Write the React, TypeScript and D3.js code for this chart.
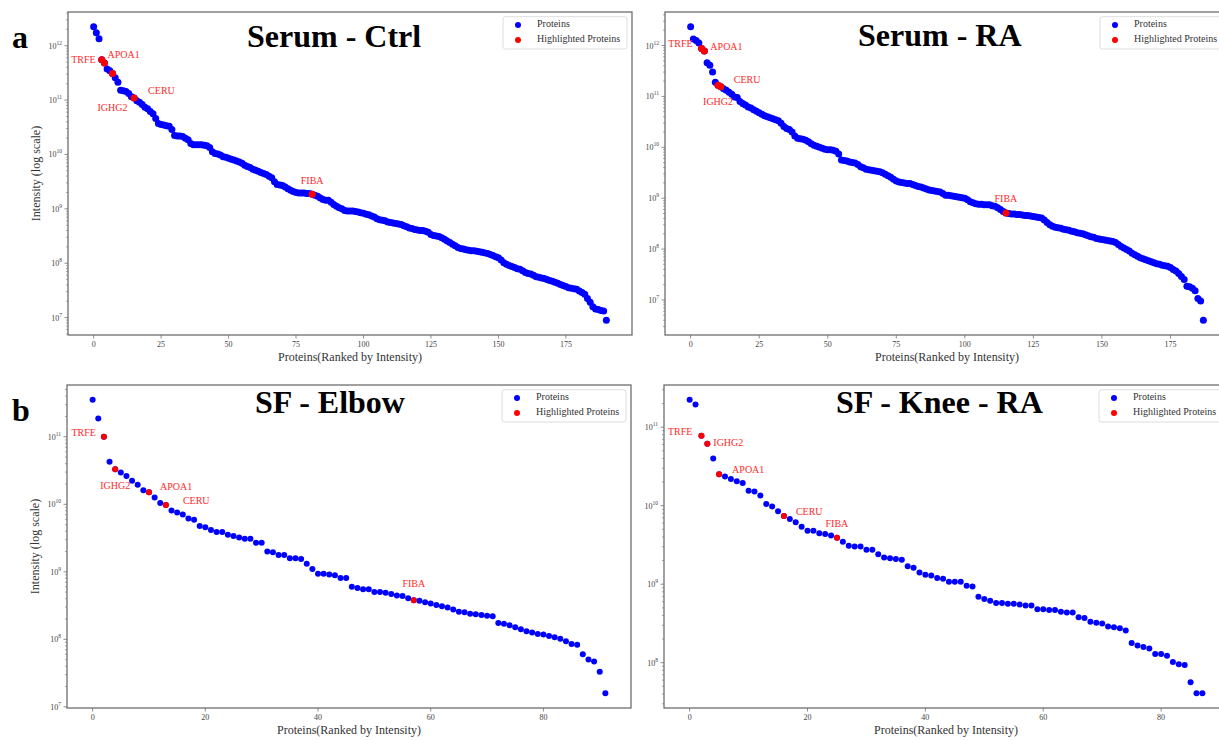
import React from 'react';
import * as d3 from 'd3';

// ---------- DATA (log10 intensity, ranked) ----------
const serumCtrlLog = [
  12.35, 12.24, 12.13, 11.74, 11.68, 11.57, 11.54, 11.49, 11.41, 11.33,
  11.18, 11.17, 11.16, 11.12, 11.06, 11.04, 10.99, 10.96, 10.92, 10.87,
  10.84, 10.79, 10.75, 10.66, 10.57, 10.55, 10.54, 10.53, 10.52, 10.46,
  10.35, 10.34, 10.34, 10.33, 10.30, 10.27, 10.20, 10.18, 10.18, 10.18,
  10.18, 10.17, 10.16, 10.13, 10.05, 10.02, 10.01, 9.99, 9.96, 9.95,
  9.93, 9.91, 9.90, 9.88, 9.86, 9.84, 9.80, 9.78, 9.76, 9.73,
  9.71, 9.69, 9.67, 9.65, 9.63, 9.60, 9.57, 9.50, 9.45, 9.44,
  9.43, 9.40, 9.37, 9.34, 9.32, 9.30, 9.29, 9.29, 9.29, 9.28,
  9.28, 9.27, 9.25, 9.23, 9.20, 9.17, 9.16, 9.16, 9.12, 9.08,
  9.05, 9.02, 9.00, 8.97, 8.96, 8.96, 8.96, 8.95, 8.94, 8.93,
  8.92, 8.90, 8.89, 8.87, 8.85, 8.82, 8.80, 8.79, 8.78, 8.76,
  8.75, 8.74, 8.73, 8.72, 8.71, 8.69, 8.67, 8.65, 8.64, 8.62,
  8.61, 8.60, 8.60, 8.59, 8.57, 8.53, 8.51, 8.50, 8.49, 8.47,
  8.44, 8.41, 8.38, 8.35, 8.32, 8.29, 8.27, 8.26, 8.25, 8.24,
  8.23, 8.23, 8.22, 8.21, 8.20, 8.19, 8.18, 8.16, 8.14, 8.12,
  8.10, 8.06, 8.01, 7.98, 7.96, 7.94, 7.92, 7.90, 7.89, 7.86,
  7.83, 7.81, 7.80, 7.78, 7.75, 7.74, 7.73, 7.72, 7.70, 7.68,
  7.67, 7.65, 7.63, 7.61, 7.59, 7.57, 7.55, 7.54, 7.53, 7.52,
  7.49, 7.46, 7.43, 7.35, 7.28, 7.20, 7.16, 7.15, 7.13, 7.12,
  6.95,
];

const serumRaLog = [
  12.37, 12.13, 12.10, 12.05, 11.94, 11.89, 11.66, 11.61, 11.48, 11.28,
  11.22, 11.19, 11.15, 11.12, 11.08, 11.04, 10.99, 10.98, 10.90, 10.86,
  10.83, 10.79, 10.77, 10.74, 10.71, 10.68, 10.65, 10.62, 10.60, 10.58,
  10.56, 10.54, 10.52, 10.47, 10.41, 10.37, 10.35, 10.30, 10.22, 10.18,
  10.17, 10.16, 10.14, 10.11, 10.07, 10.04, 10.02, 10.00, 9.98, 9.96,
  9.95, 9.95, 9.94, 9.92, 9.87, 9.75, 9.74, 9.73, 9.71, 9.70,
  9.69, 9.66, 9.62, 9.60, 9.57, 9.56, 9.55, 9.54, 9.53, 9.52,
  9.50, 9.47, 9.44, 9.41, 9.37, 9.34, 9.32, 9.31, 9.30, 9.29,
  9.29, 9.27, 9.25, 9.23, 9.22, 9.20, 9.18, 9.16, 9.15, 9.14,
  9.13, 9.12, 9.09, 9.06, 9.06, 9.05, 9.04, 9.03, 9.02, 9.01,
  9.00, 8.97, 8.93, 8.91, 8.89, 8.88, 8.88, 8.87, 8.87, 8.87,
  8.85, 8.84, 8.81, 8.78, 8.74, 8.71, 8.70, 8.69, 8.69, 8.68,
  8.68, 8.67, 8.66, 8.66, 8.65, 8.64, 8.63, 8.62, 8.61, 8.57,
  8.52, 8.48, 8.45, 8.43, 8.42, 8.41, 8.39, 8.38, 8.37, 8.35,
  8.34, 8.32, 8.31, 8.30, 8.28, 8.26, 8.24, 8.23, 8.21, 8.20,
  8.19, 8.18, 8.17, 8.16, 8.15, 8.13, 8.09, 8.05, 8.02, 7.99,
  7.96, 7.92, 7.89, 7.86, 7.83, 7.81, 7.79, 7.77, 7.75, 7.73,
  7.71, 7.70, 7.68, 7.67, 7.66, 7.64, 7.60, 7.57, 7.52, 7.46,
  7.40, 7.27, 7.26, 7.23, 7.18, 7.03, 6.98, 6.60,
];

const sfElbowLog = [
  11.55, 11.27, 11.00, 10.63, 10.52, 10.47, 10.42, 10.35, 10.29, 10.21,
  10.18, 10.10, 10.02, 9.99, 9.91, 9.88, 9.85, 9.79, 9.77, 9.68,
  9.66, 9.62, 9.59, 9.59, 9.55, 9.53, 9.51, 9.49, 9.49, 9.43,
  9.43, 9.30, 9.29, 9.25, 9.25, 9.20, 9.20, 9.19, 9.12, 9.04,
  8.97, 8.97, 8.96, 8.95, 8.91, 8.91, 8.78, 8.76, 8.74, 8.74,
  8.70, 8.70, 8.69, 8.67, 8.65, 8.64, 8.61, 8.58, 8.57, 8.55,
  8.53, 8.51, 8.49, 8.47, 8.44, 8.41, 8.40, 8.38, 8.37, 8.36,
  8.35, 8.34, 8.24, 8.23, 8.21, 8.18, 8.15, 8.12, 8.10, 8.08,
  8.07, 8.05, 8.03, 8.01, 7.97, 7.93, 7.92, 7.78, 7.70, 7.67,
  7.52, 7.20,
];

const sfKneeLog = [
  11.35, 11.29, 10.89, 10.79, 10.60, 10.40, 10.37, 10.34, 10.31, 10.29,
  10.19, 10.18, 10.13, 10.02, 9.99, 9.93, 9.87, 9.83, 9.79, 9.73,
  9.68, 9.68, 9.65, 9.64, 9.62, 9.59, 9.54, 9.49, 9.48, 9.48,
  9.44, 9.44, 9.38, 9.34, 9.33, 9.32, 9.31, 9.23, 9.21, 9.15,
  9.12, 9.11, 9.08, 9.07, 9.03, 9.03, 9.03, 8.98, 8.97, 8.84,
  8.81, 8.79, 8.76, 8.76, 8.75, 8.75, 8.74, 8.73, 8.73, 8.68,
  8.68, 8.67, 8.67, 8.65, 8.64, 8.64, 8.58, 8.57, 8.52, 8.51,
  8.50, 8.46, 8.45, 8.44, 8.41, 8.25, 8.22, 8.20, 8.18, 8.11,
  8.11, 8.09, 8.01, 7.98, 7.97, 7.75, 7.61, 7.61,
];

// highlighted proteins: name and rank index
const serumCtrlNames = ['TRFE', 'APOA1', 'IGHG2', 'CERU', 'FIBA'];
const serumCtrlIdx = [3, 4, 7, 15, 81];
const serumRaNames = ['TRFE', 'APOA1', 'IGHG2', 'CERU', 'FIBA'];
const serumRaIdx = [4, 5, 10, 11, 115];
const sfElbowNames = ['TRFE', 'IGHG2', 'APOA1', 'CERU', 'FIBA'];
const sfElbowIdx = [2, 4, 10, 13, 57];
const sfKneeNames = ['TRFE', 'IGHG2', 'APOA1', 'CERU', 'FIBA'];
const sfKneeIdx = [2, 3, 5, 16, 25];

const serumXTicks = [0, 25, 50, 75, 100, 125, 150, 175];
const sfXTicks = [0, 20, 40, 60, 80];

const titles = ['Serum - Ctrl', 'Serum - RA', 'SF - Elbow', 'SF - Knee - RA'];
const legendLabels = ['Proteins', 'Highlighted Proteins'];
const xAxisLabel = 'Proteins(Ranked by Intensity)';
const yAxisLabel = 'Intensity (log scale)';

// ---------- LAYOUT / STYLE ----------
const FONT = "'Liberation Serif', 'Times New Roman', Times, serif";
const BLUE = '#0000ff';
const RED = '#ff0000';
const LABEL_RED = '#ff2a2a';
const SPINE = '#6e6e6e';

// label offsets: [dx, dy, anchor]
type Off = [number, number, 'start' | 'middle' | 'end'];
const serumCtrlOff: Off[] = [[-6, 1, 'end'], [3, -7, 'start'], [0, 35, 'middle'], [14, -6, 'start'], [0, -12, 'middle']];
const serumRaOff: Off[] = [[-9, -4, 'end'], [6, -3, 'start'], [0, 17, 'middle'], [13, -6, 'start'], [0, -13, 'middle']];
const sfElbowOff: Off[] = [[-8, -3, 'end'], [0, 17, 'middle'], [11, -4, 'start'], [17, -3, 'start'], [0, -15, 'middle']];
const sfKneeOff: Off[] = [[-9, -3, 'end'], [6, 0, 'start'], [13, -4, 'start'], [12, -3, 'start'], [0, -13, 'middle']];

interface PanelCfg {
  title: string;
  data: number[];
  names: string[];
  idx: number[];
  offs: Off[];
  xTicks: number[];
  left: number;
  top: number;
  r: number;
  yLabel: boolean;
  titleX: number;
  titleY: number;
  letter?: string;
  letterY?: number;
}

const W = 564;
const H = 323;

const panels: PanelCfg[] = [
  { title: titles[0], data: serumCtrlLog, names: serumCtrlNames, idx: serumCtrlIdx, offs: serumCtrlOff, xTicks: serumXTicks, left: 68, top: 12, r: 3.5, yLabel: true, titleX: 247, titleY: 47, letter: 'a', letterY: 48 },
  { title: titles[1], data: serumRaLog, names: serumRaNames, idx: serumRaIdx, offs: serumRaOff, xTicks: serumXTicks, left: 665, top: 12, r: 3.5, yLabel: false, titleX: 858, titleY: 46 },
  { title: titles[2], data: sfElbowLog, names: sfElbowNames, idx: sfElbowIdx, offs: sfElbowOff, xTicks: sfXTicks, left: 67, top: 385, r: 3.0, yLabel: true, titleX: 255, titleY: 413, letter: 'b', letterY: 421 },
  { title: titles[3], data: sfKneeLog, names: sfKneeNames, idx: sfKneeIdx, offs: sfKneeOff, xTicks: sfXTicks, left: 664, top: 385, r: 3.0, yLabel: false, titleX: 836, titleY: 413 },
];

function Panel({ cfg }: { cfg: PanelCfg }) {
  const { data, left, top } = cfg;
  const n = data.length;
  const xm = (n - 1) * 0.05;
  const x = d3.scaleLinear().domain([-xm, n - 1 + xm]).range([left, left + W]);
  const lo = d3.min(data) as number;
  const hi = d3.max(data) as number;
  const ym = (hi - lo) * 0.05;
  const y = d3.scaleLog().domain([Math.pow(10, lo - ym), Math.pow(10, hi + ym)]).range([top + H, top]);
  const [d0, d1] = y.domain();

  const majors: number[] = [];
  const minors: number[] = [];
  for (let k = Math.floor(Math.log10(d0)); k <= Math.ceil(Math.log10(d1)); k++) {
    const p = Math.pow(10, k);
    if (p >= d0 * 0.9999 && p <= d1) majors.push(k);
    for (let m = 2; m <= 9; m++) {
      const v = m * p;
      if (v >= d0 && v <= d1) minors.push(v);
    }
  }

  const bottom = top + H;
  const right = left + W;
  const legX = right - 129;

  return (
    <g fontFamily={FONT}>
      {/* points */}
      {data.map((v, i) => (
        <circle key={'b' + i} cx={x(i)} cy={y(Math.pow(10, v))} r={cfg.r} fill={BLUE} />
      ))}
      {cfg.idx.map((i) => (
        <circle key={'r' + i} cx={x(i)} cy={y(Math.pow(10, data[i]))} r={cfg.r} fill={RED} />
      ))}
      {cfg.idx.map((i, j) => {
        const [dx, dy, anchor] = cfg.offs[j];
        return (
          <text key={'l' + i} x={x(i) + dx} y={y(Math.pow(10, data[i])) + dy} fill={LABEL_RED} fontSize={10}
            textAnchor={anchor} dominantBaseline="middle">{cfg.names[j]}</text>
        );
      })}
      {/* frame */}
      <rect x={left} y={top} width={W} height={H} fill="none" stroke={SPINE} strokeWidth={1.3} />
      {/* x ticks */}
      {cfg.xTicks.map((t) => (
        <g key={'xt' + t}>
          <line x1={x(t)} x2={x(t)} y1={bottom} y2={bottom + 3.5} stroke={SPINE} strokeWidth={0.8} />
          <text x={x(t)} y={bottom + 10} fontSize={8} fill="#444" textAnchor="middle" dominantBaseline="middle">{t}</text>
        </g>
      ))}
      {/* y ticks */}
      {minors.map((v, i) => (
        <line key={'ym' + i} x1={left} x2={left - 2} y1={y(v)} y2={y(v)} stroke={SPINE} strokeWidth={0.6} />
      ))}
      {majors.map((k) => (
        <g key={'yt' + k}>
          <line x1={left} x2={left - 3.5} y1={y(Math.pow(10, k))} y2={y(Math.pow(10, k))} stroke={SPINE} strokeWidth={0.8} />
          <text x={left - 6} y={y(Math.pow(10, k)) + 3} fontSize={8} fill="#444" textAnchor="end">
            10<tspan dy={-4} fontSize={5.5}>{k}</tspan>
          </text>
        </g>
      ))}
      {/* axis labels */}
      <text x={(left + right) / 2} y={bottom + 23.5} fontSize={12} fill="#333" textAnchor="middle" dominantBaseline="middle">{xAxisLabel}</text>
      {cfg.yLabel && (
        <text transform={`translate(${left - 31},${(top + bottom) / 2}) rotate(-90)`} fontSize={12} fill="#333"
          textAnchor="middle" dominantBaseline="middle">{yAxisLabel}</text>
      )}
      {/* legend */}
      <rect x={legX} y={top + 4.7} width={124} height={32.3} rx={2.5} fill="#fff" fillOpacity={0.85} stroke="#d4d4d4" strokeWidth={0.8} />
      <circle cx={legX + 15} cy={top + 13} r={3} fill={BLUE} />
      <circle cx={legX + 15} cy={top + 28} r={3} fill={RED} />
      <text x={legX + 34} y={top + 13} fontSize={10} fill="#333" dominantBaseline="middle">{legendLabels[0]}</text>
      <text x={legX + 34} y={top + 28} fontSize={10} fill="#333" dominantBaseline="middle">{legendLabels[1]}</text>
      {/* title */}
      <text x={cfg.titleX} y={cfg.titleY} fontSize={32} fontWeight="bold" fill="#000">{cfg.title}</text>
      {cfg.letter && (
        <text x={12} y={cfg.letterY} fontSize={32} fontWeight="bold" fill="#000">{cfg.letter}</text>
      )}
    </g>
  );
}

export default function App() {
  return (
    <svg width={1219} height={740} style={{ position: 'absolute', left: 0, top: 0, background: '#fff' }}>
      <rect x={0} y={0} width={1219} height={740} fill="#fff" />
      {panels.map((p) => (
        <Panel key={p.title} cfg={p} />
      ))}
    </svg>
  );
}
